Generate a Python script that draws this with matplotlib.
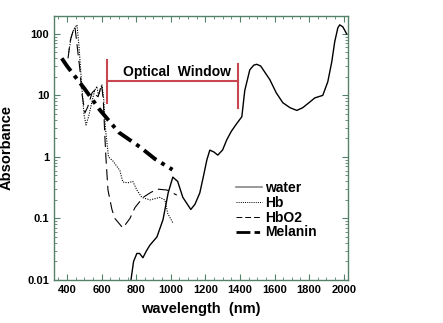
import matplotlib
matplotlib.use("Agg")
import matplotlib.pyplot as plt
from matplotlib.lines import Line2D
from matplotlib.ticker import MultipleLocator, LogLocator, NullFormatter, FixedLocator
import numpy as np

plt.rcParams['font.family'] = ['Liberation Sans', 'DejaVu Sans']
plt.rcParams['font.weight'] = 'bold'

# water absorption
water_wl = [770, 785, 804, 820, 839, 860, 880, 920, 955, 985, 1012, 1040, 1070, 1116, 1140,
            1168, 1190, 1209, 1226, 1250, 1272, 1300, 1324, 1350, 1382, 1411, 1428, 1457, 1480,
            1497, 1520, 1573, 1610, 1648, 1690, 1729, 1763, 1804, 1833, 1879, 1908, 1931, 1948,
            1966, 1977, 1995, 2017]
water_abs = [0.01, 0.02, 0.027, 0.027, 0.023, 0.03, 0.037, 0.05, 0.095, 0.26, 0.47, 0.4, 0.22,
             0.14, 0.17, 0.26, 0.5, 0.9, 1.29, 1.2, 1.07, 1.3, 1.9, 2.6, 3.5, 4.5, 12, 26, 31,
             32, 30, 18, 11, 7.6, 6.3, 5.7, 6.3, 7.8, 9.1, 10, 16.6, 35, 74, 125, 140, 130, 100]

hb_wl = [410, 425, 440, 458, 470, 485, 498, 510, 525, 545, 560, 573, 582, 590, 602, 612, 622,
         640, 667, 706, 723, 752, 781, 804, 833, 880, 937, 966, 983, 1012]
hb_abs = [50, 90, 120, 140, 60, 15, 5, 3.3, 4.5, 8, 12, 14, 10, 11.5, 15, 9, 3, 1.0, 0.85, 0.6,
          0.39, 0.38, 0.4, 0.29, 0.22, 0.2, 0.22, 0.2, 0.12, 0.085]

hbo2_wl = [406, 420, 435, 446, 460, 475, 486, 504, 520, 533, 545, 562, 570, 580, 590, 600, 610,
           618, 625, 637, 660, 677, 706, 723, 764, 793, 840, 880, 920, 978, 1035]
hbo2_abs = [40, 80, 110, 130, 60, 26, 10.8, 5.2, 6.5, 8.5, 11, 12.3, 10, 9.5, 12, 15, 8.5, 2.5,
            1.0, 0.29, 0.14, 0.1, 0.08, 0.07, 0.1, 0.15, 0.22, 0.26, 0.3, 0.29, 0.24]

mel_wl = [370, 400, 475, 500, 590, 700, 822, 908, 1010]
mel_abs = [40, 30, 16, 13, 5.8, 2.5, 1.45, 0.93, 0.62]

window = [630, 1390]

spine_col = '#55806a'

fig = plt.figure(figsize=(4.43, 3.23), dpi=100)
ax = fig.add_axes([0.1219, 0.1331, 0.6637, 0.8174])

ax.plot(water_wl, water_abs, color='black', lw=1.0)
ax.plot(hb_wl, hb_abs, color='black', lw=0.8, linestyle=(0, (1, 1.2)))
ax.plot(hbo2_wl, hbo2_abs, color='black', lw=0.8, linestyle=(0, (10, 5)))
ax.plot(mel_wl, mel_abs, color='black', lw=2.8, linestyle=(0, (4, 1.5, 1, 1.5)))

# optical window bracket
red = '#c8464f'
ax.plot([window[0], window[0]], [7.6, 38], color=red, lw=1.5)
ax.plot([window[0], window[1]], [17.2, 17.2], color=red, lw=1.5)
ax.plot([window[1], window[1]], [6.3, 32], color=red, lw=1.5)
ax.text(1035, 24, 'Optical  Window', ha='center', va='center', fontsize=10, fontweight='bold')

ax.set_yscale('log')
ax.set_xlim(325, 2025)
ax.set_ylim(0.01, 195)

ax.xaxis.set_major_locator(FixedLocator([400, 600, 800, 1000, 1200, 1400, 1600, 1800, 2000]))
ax.xaxis.set_minor_locator(MultipleLocator(50))
ax.yaxis.set_minor_locator(LogLocator(base=10, subs=np.arange(2, 10), numticks=10))
ax.yaxis.set_minor_formatter(NullFormatter())
ax.set_yticks([0.01, 0.1, 1, 10, 100])
ax.set_yticklabels(['0.01', '0.1', '1', '10', '100'])

ax.tick_params(which='both', direction='in', top=True, right=True, colors=spine_col,
               labelcolor='black', labelsize=8)
ax.tick_params(which='major', length=4, width=0.8)
ax.tick_params(which='minor', length=2.5, width=0.6)
for s in ax.spines.values():
    s.set_color(spine_col)
    s.set_linewidth(1.0)
for lab in ax.get_xticklabels() + ax.get_yticklabels():
    lab.set_fontweight('bold')

ax.set_xlabel('wavelength  (nm)', fontsize=10.5, fontweight='bold', labelpad=5)
ax.set_ylabel('Absorbance', fontsize=10.5, fontweight='bold')
ax.yaxis.set_label_coords(-0.136, 0.5)

handles = [
    Line2D([], [], color='#888888', lw=1.2),
    Line2D([], [], color='black', lw=0.7, linestyle=(0, (1, 1.2))),
    Line2D([], [], color='black', lw=0.7, linestyle=(0, (6, 3))),
    Line2D([], [], color='black', lw=2.0, linestyle=(0, (5, 1.5, 2, 1.5))),
]
ax.legend(handles, ['water', 'Hb', 'HbO2', 'Melanin'], loc='upper left',
          bbox_to_anchor=(0.595, 0.40), frameon=False, borderpad=0,
          handlelength=1.9, handletextpad=0.2, labelspacing=0.05,
          prop={'weight': 'bold', 'size': 10})

fig.savefig('out.png', dpi=100)
